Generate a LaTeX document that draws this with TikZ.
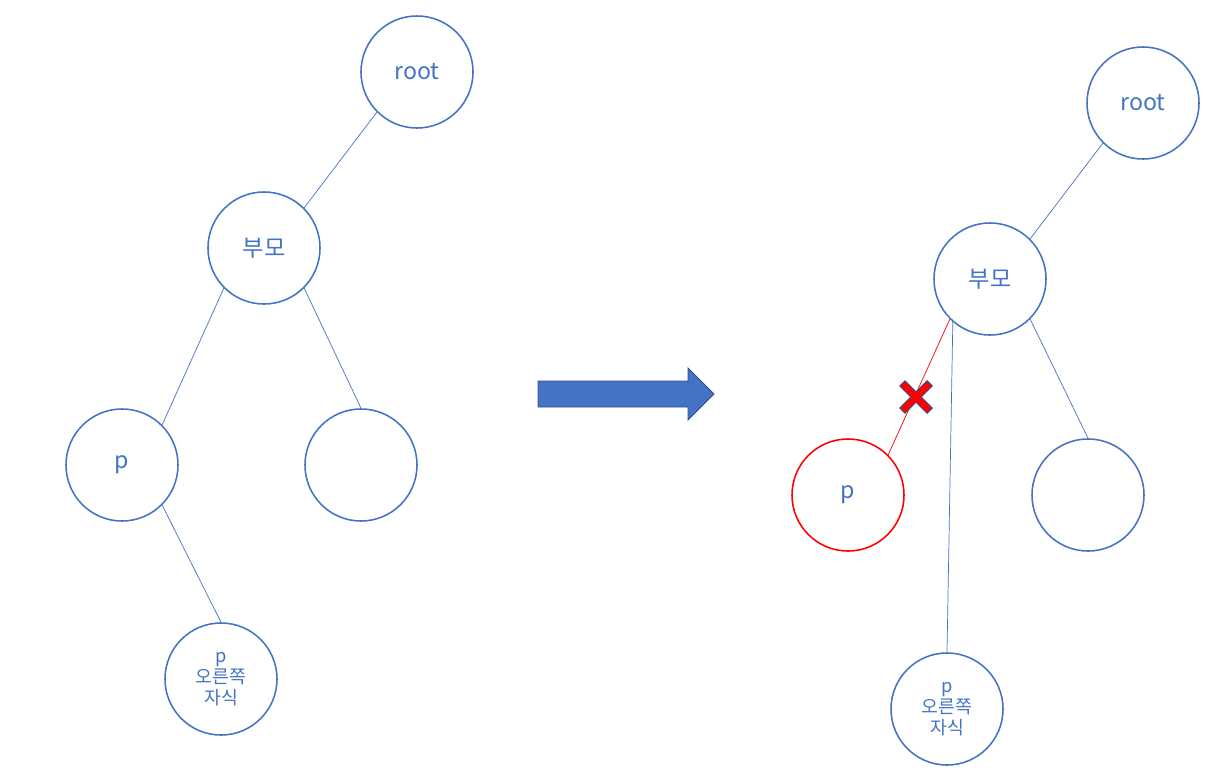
\documentclass[tikz,border=0pt]{standalone}
\usepackage{fontspec}
\setmainfont{Noto Sans CJK KR}
\usepackage{xcolor}
\usepackage{tikz}
\usetikzlibrary{
  arrows.meta,
  positioning,
  calc
}
\definecolor{nodeblue}{HTML}{4472C4}
\definecolor{darkblue}{HTML}{2F528F}
\definecolor{xred}{HTML}{FF0000}

\begin{document}
\begin{tikzpicture}[x=0.025cm,y=-0.025cm,
  treenode/.style={circle,draw=nodeblue,line width=1.1pt,minimum size=2.8cm,inner sep=0pt,
    text=nodeblue,font=\fontsize{16.5}{19}\selectfont},
  smalltext/.style={align=center,font=\fontsize{13}{15}\selectfont},
  link/.style={draw=nodeblue,line width=0.5pt},
  cutlink/.style={draw=xred,line width=0.5pt}
]
\useasboundingbox (0,0) rectangle (1207,770);

% before
\node[treenode] (rootL) at (417,72) {root};
\node[treenode] (parentL) at (264,248) {부모};
\node[treenode] (pL) at (122,465) {p};
\node[treenode] (emptyL) at (361,465) {};
\node[treenode,smalltext] (childL) at (221,679) {p\\오른쪽\\자식};

\draw[link] (rootL.south west) -- (parentL.north east);
\draw[link] (parentL.south west) -- (pL.north east);
\draw[link] (parentL.south east) -- (emptyL.north);
\draw[link] (pL.south east) -- (childL.north);

% arrow
\draw[fill=nodeblue,draw=darkblue,line width=0.6pt]
  (538,381) -- (688,381) -- (688,368) -- (714,394) -- (688,420) -- (688,407) -- (538,407) -- cycle;

% after
\node[treenode] (rootR) at (1143,103) {root};
\node[treenode] (parentR) at (990,279) {부모};
\node[treenode,draw=xred] (pR) at (848,495) {p};
\node[treenode] (emptyR) at (1088,495) {};
\node[treenode,smalltext] (childR) at (947,709) {p\\오른쪽\\자식};

\draw[link] (rootR.south west) -- (parentR.north east);
\draw[cutlink] (parentR.south west) -- (pR.north east);
\draw[link] (parentR.south east) -- (emptyR.north);
\draw[link] ($(parentR.south west)+(3,1)$) -- (childR.north);

% cross on the cut link
\coordinate (cut) at (916,397);
\draw[darkblue,line width=6pt] ($(cut)+(-14,-14)$) -- ($(cut)+(14,14)$);
\draw[darkblue,line width=6pt] ($(cut)+(14,-14)$) -- ($(cut)+(-14,14)$);
\draw[xred,line width=4.4pt] ($(cut)+(-13.3,-13.3)$) -- ($(cut)+(13.3,13.3)$);
\draw[xred,line width=4.4pt] ($(cut)+(13.3,-13.3)$) -- ($(cut)+(-13.3,13.3)$);

\end{tikzpicture}
\end{document}
